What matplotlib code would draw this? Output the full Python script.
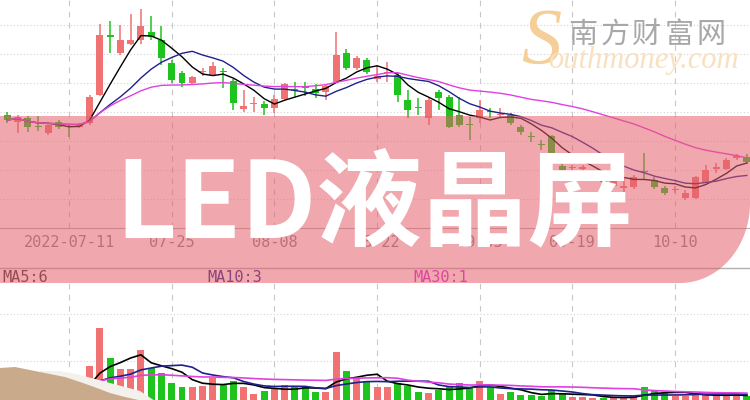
import numpy as np
import pandas as pd
import matplotlib
matplotlib.use("Agg")
import matplotlib.pyplot as plt
from matplotlib.patches import Polygon

plt.rcParams['font.family'] = ['Noto Sans CJK SC', 'DejaVu Sans']

# trading days on screen (Mid-Autumn and National Day closed)
days = pd.bdate_range('2022-07-01', '2022-10-19')
closed = pd.to_datetime(['2022-09-12', '2022-10-03', '2022-10-04', '2022-10-05',
                         '2022-10-06', '2022-10-07'])
days = days[~days.isin(closed)]

opens = [12.26, 12.12, 12.20, 12.03, 11.90, 12.12, 12.02, 12.02,
         12.10, 12.66, 13.86, 13.50, 13.68, 13.76, 13.92, 13.76, 13.30, 13.10,
         12.90, 13.11, 13.06, 13.13, 12.94, 12.38, 12.47, 12.48, 12.40, 12.58,
         12.77, 12.81, 12.78, 12.72, 12.92, 13.50, 13.20, 13.36, 12.98, 13.10,
         13.06, 12.56, 12.41, 12.20, 12.72, 12.62, 12.26, 12.07, 12.20, 12.33,
         12.26, 12.26, 12.02, 11.83, 11.67, 11.84, 11.24, 11.19, 11.18, 11.00,
         11.06, 10.84, 10.80, 10.82, 11.13, 10.96, 10.80, 10.75, 10.60, 10.60,
         10.92, 11.18, 11.18, 11.40, 11.42]
closes = [12.16, 12.22, 12.02, 12.01, 12.06, 12.02, 12.01, 12.06,
          12.62, 13.86, 13.82, 13.76, 13.76, 14.04, 13.82, 13.40, 12.96, 12.90,
          13.02, 13.12, 13.24, 13.11, 12.50, 12.44, 12.48, 12.40, 12.58, 12.88,
          12.75, 12.79, 12.70, 12.84, 13.46, 13.20, 13.40, 13.12, 13.04, 13.12,
          12.66, 12.36, 12.39, 12.56, 12.60, 12.02, 12.06, 12.05, 12.36, 12.31,
          12.28, 12.10, 11.92, 11.81, 11.65, 11.50, 11.16, 11.20, 11.22, 11.12,
          10.92, 10.96, 10.84, 11.02, 11.11, 10.82, 10.70, 10.77, 10.70, 11.02,
          11.16, 11.22, 11.36, 11.44, 11.32]
highs = [12.32, 12.26, 12.24, 12.24, 12.10, 12.16, 12.08, 12.10,
         12.66, 14.08, 14.14, 14.06, 14.28, 14.38, 14.24, 14.04, 13.36, 13.14,
         13.04, 13.20, 13.32, 13.20, 12.98, 12.76, 12.62, 12.54, 12.66, 12.90,
         12.92, 12.92, 12.88, 12.86, 13.92, 13.58, 13.44, 13.40, 13.26, 13.32,
         13.10, 12.76, 12.60, 12.60, 12.76, 12.66, 12.62, 12.22, 12.56, 12.40,
         12.40, 12.30, 12.06, 11.92, 11.76, 11.86, 11.30, 11.26, 11.26, 11.16,
         11.10, 11.00, 11.02, 11.06, 11.50, 11.02, 10.84, 10.84, 10.76, 11.04,
         11.26, 11.30, 11.40, 11.48, 11.48]
lows = [12.10, 11.90, 11.92, 11.94, 11.86, 11.98, 11.82, 12.00,
        12.06, 12.64, 13.50, 13.46, 13.66, 13.68, 13.76, 13.26, 12.90, 12.82,
        12.88, 13.04, 13.04, 12.80, 12.36, 12.32, 12.32, 12.26, 12.30, 12.56,
        12.62, 12.64, 12.60, 12.56, 12.90, 13.16, 13.16, 13.08, 12.92, 12.92,
        12.52, 12.20, 12.26, 12.06, 12.36, 12.00, 12.02, 11.76, 12.10, 12.20,
        12.20, 12.06, 11.86, 11.72, 11.56, 11.46, 11.12, 11.14, 11.12, 10.96,
        10.88, 10.80, 10.66, 10.78, 10.96, 10.78, 10.66, 10.70, 10.56, 10.58,
        10.90, 11.10, 11.16, 11.36, 11.28]
volume = [0.85, 0.94, 0.77, 0.68, 0.89, 0.72, 0.81, 0.68,
          1.79, 3.40, 2.13, 1.66, 1.66, 2.47, 1.70, 1.49, 1.06, 0.89,
          0.89, 0.94, 1.28, 0.98, 1.15, 0.89, 0.60, 0.72, 0.81, 0.98,
          0.89, 0.89, 0.68, 0.68, 2.38, 1.57, 1.23, 1.11, 0.89, 0.89,
          1.06, 0.94, 0.68, 0.64, 0.77, 0.89, 1.06, 0.89, 1.15, 0.89,
          0.60, 0.68, 0.55, 0.55, 0.51, 0.77, 0.64, 0.47, 0.47, 0.43,
          0.43, 0.47, 0.43, 0.51, 0.89, 0.77, 0.64, 0.51, 0.51, 0.60,
          0.55, 0.55, 0.51, 0.55, 0.51]

tick_dates = ['2022-07-11', '2022-07-25', '2022-08-08', '2022-08-22',
              '2022-09-05', '2022-09-19', '2022-10-10']
tick_labels = ['2022-07-11', '07-25', '08-08', '08-22', '09-05', '09-19', '10-10']
ma_labels = ['MA5:6', 'MA10:3', 'MA30:1']
title = 'LED液晶屏'
site_cn = '南方财富网'
site_en = 'outhmoney.com'

df = pd.DataFrame({'open': opens, 'close': closes, 'high': highs,
                   'low': lows, 'vol': volume}, index=days)
x = np.arange(len(df))
up = df['close'] >= df['open']
UP, DOWN = '#f07272', '#1ec31e'
colors = np.where(up, UP, DOWN)
ticks = [days.get_loc(pd.Timestamp(d)) for d in tick_dates]

fig = plt.figure(figsize=(7.5, 4), dpi=100)
ax = fig.add_axes([0, 0.43, 1, 0.57])
axv = fig.add_axes([0, 0, 1, 117 / 400])
mid = fig.add_axes([0, 0, 1, 1], zorder=2)
top = fig.add_axes([0, 0, 1, 1], zorder=3)

# ---- price panel ----
grid_y = 10.58 + 0.58 * np.arange(7)
for g in grid_y:
    ax.axhline(g, color='#d4d4d4', lw=0.8, ls=(0, (1, 2)), zorder=0)
for t in ticks:
    ax.axvline(t, color='#c8c8c8', lw=0.8, ls=(0, (5, 5)), zorder=0)

ax.vlines(x, df['low'], df['high'], colors=colors, lw=1.1, zorder=2)
body = np.maximum((df['close'] - df['open']).abs(), 0.02)
ax.bar(x, body, bottom=np.minimum(df['open'], df['close']), width=0.68,
       color=colors, zorder=3)

ma_colors = ['black', '#20208c', '#e040e0']
for n, c in zip([5, 10, 30], ma_colors):
    ax.plot(x, df['close'].rolling(n, min_periods=1).mean(), color=c, lw=1, zorder=4)

ax.set_xlim(-0.72, 72.3)
ax.set_ylim(10.0, 14.56)
ax.set_yticks([])
ax.set_xticks(ticks, tick_labels)
ax.tick_params(axis='x', length=0, pad=5, labelsize=11, labelcolor='#858585')
for lab in ax.get_xticklabels():
    lab.set_fontfamily('DejaVu Sans Mono')
for s in ['top', 'left', 'right']:
    ax.spines[s].set_visible(False)
ax.spines['bottom'].set_color('#b0b0b0')

# ---- volume panel ----
for g in [2, 4]:
    axv.axhline(g, color='#d4d4d4', lw=0.8, ls=(0, (1, 2)), zorder=0)
for t in ticks:
    axv.axvline(t, color='#c8c8c8', lw=0.8, ls=(0, (5, 5)), zorder=0)
axv.bar(x, df['vol'], width=0.68, color=colors, zorder=2)
for n, c in zip([5, 10, 30], ma_colors):
    axv.plot(x, df['vol'].rolling(n, min_periods=1).mean(), color=c, lw=1.2, zorder=3)
axv.set_xlim(-0.72, 72.3)
axv.set_ylim(0.34, 5.32)
axv.axis('off')

# ---- separator and volume MA labels ----
mid.set_xlim(0, 750)
mid.set_ylim(400, 0)
mid.axis('off')
mid.axhline(268, color='#b0b0b0', lw=1)
for lab, xp, c in zip(ma_labels, [2, 207, 413], ['#333333', '#20208c', '#e020e0']):
    mid.text(xp, 277, lab, color=c, fontsize=11, family='DejaVu Sans Mono',
             ha='left', va='center')

# ---- overlay: banner, title, watermark, torn paper ----
top.set_xlim(0, 750)
top.set_ylim(400, 0)
top.axis('off')

t = np.linspace(0, np.pi / 2, 40)
arc = np.column_stack([680 + 70 * np.cos(t), 203 + 80 * np.sin(t)])
banner = np.vstack([[[0, 116], [760, 116], [760, 203]], arc, [[0, 283]]])
top.add_patch(Polygon(banner, closed=True, facecolor='#e5606c', alpha=0.55,
                      edgecolor='none'))

top.text(374, 237, title, ha='center', va='baseline', fontsize=76,
         color='white', fontweight='black',
         family=['Noto Sans CJK SC', 'DejaVu Sans'])

for i, ch in enumerate(site_cn):
    top.text(583 + 32 * i, 35, ch, ha='center', va='center', fontsize=21,
             color='#a8a8a8')
top.text(541, 44, 'S', ha='center', va='center', fontsize=58, style='italic',
         family='Liberation Serif', color='#f5cf98')
top.text(548, 68, site_en, ha='left', va='baseline', fontsize=22, style='italic',
         family='Liberation Serif', color='#f8e0c0')

rim = [(40, 371), (60, 371), (80, 375), (95, 379), (110, 383), (125, 387),
       (140, 391), (155, 401), (40, 401)]
top.add_patch(Polygon(rim, closed=True, facecolor='#f4f1ec', edgecolor='none'))
paper = [(0, 368), (15, 367), (30, 370), (50, 374), (65, 377), (83, 383),
         (97, 388), (110, 393), (125, 397), (143, 401), (0, 401)]
top.add_patch(Polygon(paper, closed=True, facecolor='#c9ab8c', edgecolor='none'))

fig.savefig('out.png', dpi=100)
